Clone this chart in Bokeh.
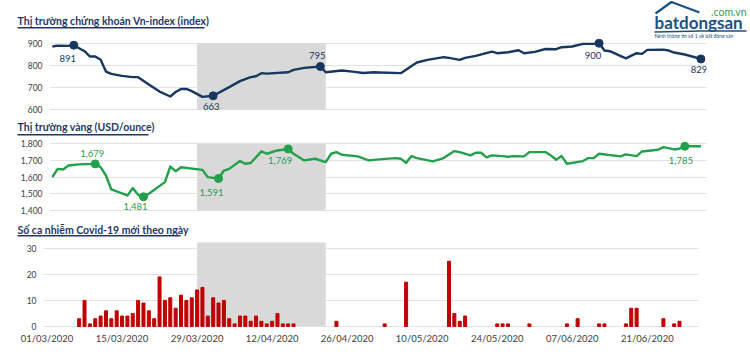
import pandas as pd
from bokeh.plotting import figure
from bokeh.layouts import column
from bokeh.models import (Range1d, FixedTicker, NumeralTickFormatter, Label,
                          ColumnDataSource, DatetimeTickFormatter)
from bokeh.embed import file_html
from bokeh.resources import INLINE

# ---------------- data ----------------
vn_dates = ["2020-03-02", "2020-03-03", "2020-03-05", "2020-03-06", "2020-03-08", "2020-03-09", "2020-03-10",
            "2020-03-11", "2020-03-12", "2020-03-13", "2020-03-15", "2020-03-17", "2020-03-18", "2020-03-20",
            "2020-03-22", "2020-03-24", "2020-03-25", "2020-03-26", "2020-03-27", "2020-03-28", "2020-03-30",
            "2020-04-01", "2020-04-04", "2020-04-06", "2020-04-08", "2020-04-09", "2020-04-10", "2020-04-11",
            "2020-04-15", "2020-04-16", "2020-04-18", "2020-04-21", "2020-04-22", "2020-04-25", "2020-04-27",
            "2020-04-29", "2020-05-01", "2020-05-02", "2020-05-06", "2020-05-09", "2020-05-11", "2020-05-14",
            "2020-05-15", "2020-05-17", "2020-05-18", "2020-05-20", "2020-05-23", "2020-05-24", "2020-05-26",
            "2020-05-28", "2020-05-29", "2020-05-31", "2020-06-02", "2020-06-04", "2020-06-05", "2020-06-07",
            "2020-06-09", "2020-06-11", "2020-06-12", "2020-06-13", "2020-06-14", "2020-06-17", "2020-06-19",
            "2020-06-20", "2020-06-21", "2020-06-24", "2020-06-25", "2020-06-26", "2020-06-28", "2020-07-01"]
vn_values = [885, 889, 888, 891, 864, 840, 840, 825, 772, 762, 753, 747, 747, 714, 682, 660, 680, 694, 694, 684, 658,
             663, 702, 729, 747, 751, 765, 763, 769, 780, 789, 795, 769, 777, 772, 766,
             769, 768, 765, 813, 825, 837, 834, 825, 834, 843, 862, 855, 859, 868, 855, 861,
             874, 873, 882, 885, 897, 897, 900, 867, 864, 832, 855, 852, 870, 871, 867, 858, 849,
             829]
vn_mark_dates = ["2020-03-06", "2020-04-01", "2020-04-21", "2020-06-12", "2020-07-01"]
vn_mark_values = [891, 663, 795, 900, 829]

gold_dates = ["2020-03-02", "2020-03-03", "2020-03-04", "2020-03-05", "2020-03-07", "2020-03-10", "2020-03-11",
              "2020-03-12", "2020-03-13", "2020-03-16", "2020-03-17", "2020-03-18", "2020-03-19", "2020-03-20",
              "2020-03-23", "2020-03-24", "2020-03-25", "2020-03-26", "2020-03-30", "2020-03-31",
              "2020-04-01", "2020-04-02", "2020-04-03", "2020-04-04", "2020-04-06", "2020-04-07", "2020-04-08",
              "2020-04-10", "2020-04-11", "2020-04-13", "2020-04-15", "2020-04-16", "2020-04-18", "2020-04-20",
              "2020-04-22", "2020-04-23", "2020-04-24", "2020-04-25", "2020-04-28", "2020-04-30",
              "2020-05-02", "2020-05-05", "2020-05-06", "2020-05-07", "2020-05-08", "2020-05-09", "2020-05-12",
              "2020-05-14", "2020-05-16", "2020-05-17", "2020-05-19", "2020-05-20", "2020-05-21", "2020-05-22",
              "2020-05-23", "2020-05-25", "2020-05-26", "2020-05-27", "2020-05-29", "2020-05-30",
              "2020-06-02", "2020-06-03", "2020-06-04", "2020-06-05", "2020-06-06", "2020-06-09", "2020-06-10",
              "2020-06-11", "2020-06-12", "2020-06-16", "2020-06-17", "2020-06-19", "2020-06-20", "2020-06-23",
              "2020-06-24", "2020-06-26", "2020-06-27", "2020-06-28", "2020-07-01"]
gold_values = [1600, 1649, 1645, 1669, 1676, 1679, 1659, 1609, 1525, 1489, 1533, 1493, 1481, 1499, 1569, 1663,
               1635, 1659, 1643, 1599,
               1595, 1591, 1639, 1649, 1696, 1680, 1684, 1754, 1740, 1760, 1769, 1740, 1700, 1710, 1690, 1740,
               1750, 1734, 1724, 1700,
               1706, 1714, 1710, 1686, 1726, 1714, 1694, 1714, 1756, 1750, 1730, 1746, 1746, 1718, 1730, 1726,
               1722, 1726, 1724, 1750,
               1750, 1730, 1704, 1726, 1680, 1696, 1714, 1714, 1740, 1724, 1736, 1726, 1754, 1764, 1780, 1766,
               1770, 1785, 1785]
gold_mark_dates = ["2020-03-10", "2020-03-19", "2020-04-02", "2020-04-15", "2020-06-28"]
gold_mark_values = [1679, 1481, 1591, 1769, 1785]

covid_dates = ["2020-03-07", "2020-03-08", "2020-03-09", "2020-03-10", "2020-03-11", "2020-03-12", "2020-03-13",
               "2020-03-14", "2020-03-15", "2020-03-16", "2020-03-17", "2020-03-18", "2020-03-19", "2020-03-20",
               "2020-03-21", "2020-03-22", "2020-03-23", "2020-03-24", "2020-03-25", "2020-03-26", "2020-03-27",
               "2020-03-28", "2020-03-29", "2020-03-30", "2020-03-31", "2020-04-01", "2020-04-02", "2020-04-03",
               "2020-04-04", "2020-04-05", "2020-04-06", "2020-04-07", "2020-04-08", "2020-04-09", "2020-04-10",
               "2020-04-11", "2020-04-12", "2020-04-13", "2020-04-14", "2020-04-15", "2020-04-16",
               "2020-04-24", "2020-05-03", "2020-05-07", "2020-05-15", "2020-05-16", "2020-05-17", "2020-05-18",
               "2020-05-24", "2020-05-25", "2020-05-26", "2020-05-30", "2020-06-06", "2020-06-08", "2020-06-12",
               "2020-06-13", "2020-06-17", "2020-06-18", "2020-06-19", "2020-06-24", "2020-06-26", "2020-06-27"]
covid_cases = [3, 10, 1, 3, 4, 6, 3, 6, 4, 4, 5, 10, 9, 6, 3, 19, 10, 11, 7, 12, 10, 11, 14, 15, 4, 11, 9, 10,
               3, 1, 4, 4, 2, 4, 2, 1, 2, 5, 1, 1, 1,
               2, 1, 17, 25, 5, 2, 4, 1, 1, 1, 1, 1, 3, 1, 1, 1, 7, 7, 3, 1, 2]

shade_start = "2020-03-29"
shade_end = "2020-04-22"

x_tick_dates = ["2020-03-01", "2020-03-15", "2020-03-29", "2020-04-12", "2020-04-26",
                "2020-05-10", "2020-05-24", "2020-06-07", "2020-06-21"]
vn_ticks = [600, 700, 800, 900]
gold_ticks = [1400, 1500, 1600, 1700, 1800]
covid_ticks = [0, 10, 20, 30]

title_vn = "Thị trường chứng khoán Vn-index (index)"
title_gold = "Thị trường vàng (USD/ounce)"
title_covid = "Số ca nhiễm Covid-19 mới theo ngày"
logo_domain = ".com.vn"
logo_name = "batdongsan"
logo_slogan = "Kênh thông tin số 1 về bất động sản"

# ---------------- styling ----------------
FONT = "Lato"
NAVY = "#17375E"
GREEN = "#22A04B"
GREEN_TXT = "#2E9A52"
RED = "#C00000"
SHADE = "#D9D9D9"
GRID = "#E2E2E2"
TICK_TXT = "#404040"
TITLE_C = "#1F3864"
LOGO_BLUE = "#1B5283"
LOGO_GREEN = "#3C9D47"

DAY_MS = 86400000.0
T0 = pd.Timestamp("2020-03-01").value / 1e6
PX_DAY = 5.36
DAY0_PX = 46.5
W = 750


def ms(d):
    return pd.Timestamp(d).value / 1e6


def px2ms(px):
    return T0 + (px - DAY0_PX) / PX_DAY * DAY_MS


def strip(height):
    """A plain drawing strip (no axes) used for the underlined panel titles."""
    t = figure(width=W, height=height, output_backend="svg", toolbar_location=None,
               x_range=Range1d(0, W), y_range=Range1d(height, 0),
               x_axis_location=None, y_axis_location=None, frame_align=False,
               min_border_left=0, min_border_right=0, min_border_top=0, min_border_bottom=0)
    t.title.visible = False
    t.outline_line_color = None
    t.xgrid.grid_line_color = None
    t.ygrid.grid_line_color = None
    t.border_fill_color = "white"
    return t


def add_title(t, text, y, u_end, u_y):
    t.add_layout(Label(x=17, y=y, text=text, text_font=FONT, text_font_style="bold",
                       text_font_size="10.5px", text_color=TITLE_C, text_baseline="middle",
                       text_align="left"))
    t.segment(x0=[17], y0=[u_y], x1=[u_end], y1=[u_y], line_color=TITLE_C, line_width=1.6)


def make_panel(height, top_b, bot_b, left, frame_w, y0, y1, ticks, xaxis):
    p = figure(width=W, height=height, output_backend="svg", toolbar_location=None,
               x_axis_type="datetime", x_axis_location="below" if xaxis else None,
               x_range=Range1d(px2ms(left), px2ms(left + frame_w)),
               y_range=Range1d(y0, y1), frame_align=False,
               min_border_left=left, min_border_right=W - left - frame_w,
               min_border_top=top_b, min_border_bottom=bot_b)
    p.title.visible = False
    p.outline_line_color = None
    p.background_fill_color = "white"
    p.border_fill_color = "white"
    p.xgrid.grid_line_color = None
    p.ygrid.ticker = FixedTicker(ticks=ticks)
    p.ygrid.grid_line_color = GRID
    p.ygrid.grid_line_width = 1
    ax = p.yaxis[0]
    ax.ticker = FixedTicker(ticks=ticks)
    ax.axis_line_color = None
    ax.major_tick_line_color = None
    ax.minor_tick_line_color = None
    ax.major_tick_out = 0
    ax.major_tick_in = 0
    ax.major_label_standoff = 7
    ax.major_label_text_font = FONT
    ax.major_label_text_font_size = "8.5px"
    ax.major_label_text_color = TICK_TXT
    return p


# ---- title strip 1 + logo (page y 0..38) ----
t1 = strip(38)
add_title(t1, title_vn, 20, 204, 27.2)
t1.add_layout(Label(x=746, y=11, text=logo_domain, text_align="right", text_baseline="middle",
                    text_font=FONT, text_font_size="10.5px", text_color=LOGO_GREEN))
t1.add_layout(Label(x=654, y=22, text=logo_name, text_align="left", text_baseline="middle",
                    text_font=FONT, text_font_style="bold", text_font_size="17px", text_color=LOGO_BLUE))
t1.add_layout(Label(x=654, y=35.5, text=logo_slogan, text_align="left", text_baseline="middle",
                    text_font=FONT, text_font_size="5px", text_color=LOGO_BLUE))
t1.line(x=[655, 671, 699], y=[13, 1.5, 12], line_color=LOGO_BLUE, line_width=2.2)
t1.line(x=[654, 700, 746], y=[31.5, 30.5, 30.5], line_color=LOGO_BLUE, line_width=1.6)

# ---- panel 1: VN-index (page y 38..115, frame 38..113) ----
s1 = 66.6 / 300.0
def v1(py):
    return 900 - (py - 42.7) / s1

p1 = make_panel(77, 0, 2, 49, 657, v1(113), v1(38), vn_ticks, False)
p1.quad(left=[ms(shade_start)], right=[ms(shade_end)], bottom=[vn_ticks[0]], top=[vn_ticks[-1]],
        fill_color=SHADE, line_color=None)
src1 = ColumnDataSource(dict(x=pd.to_datetime(vn_dates), y=vn_values))
p1.line("x", "y", source=src1, line_color=NAVY, line_width=2.4, line_join="round")
p1.scatter(pd.to_datetime(vn_mark_dates), vn_mark_values, size=8, color=NAVY)
offs1 = [(-6, -13), (-2, -11), (-3, 11), (-6, -12), (-2, -11)]
for d, v, (dx, dy) in zip(vn_mark_dates, vn_mark_values, offs1):
    p1.add_layout(Label(x=ms(d), y=v, text=f"{v:,}", x_offset=dx, y_offset=dy, text_align="center",
                        text_baseline="middle", text_font=FONT, text_font_size="9.5px", text_color=NAVY))

# ---- title strip 2 (page y 115..138) ----
t2 = strip(23)
add_title(t2, title_gold, 126.7 - 115, 148, 134.3 - 115)

# ---- panel 2: gold (page y 138..218, frame 138..216) ----
s2 = 66.4 / 400.0
def v2(py):
    return 1800 - (py - 143.3) / s2

p2 = make_panel(80, 0, 2, 49, 657, v2(216), v2(138), gold_ticks, False)
p2.yaxis[0].formatter = NumeralTickFormatter(format="0,0")
p2.quad(left=[ms(shade_start)], right=[ms(shade_end)], bottom=[gold_ticks[0]], top=[gold_ticks[-1]],
        fill_color=SHADE, line_color=None)
src2 = ColumnDataSource(dict(x=pd.to_datetime(gold_dates), y=gold_values))
p2.line("x", "y", source=src2, line_color=GREEN, line_width=2.4, line_join="round")
p2.scatter(pd.to_datetime(gold_mark_dates), gold_mark_values, size=8, color=GREEN)
offs2 = [(-3, 10), (-8, -10), (-7, -14), (-8, -12), (-4, -14)]
for d, v, (dx, dy) in zip(gold_mark_dates, gold_mark_values, offs2):
    p2.add_layout(Label(x=ms(d), y=v, text=f"{v:,}", x_offset=dx, y_offset=dy, text_align="center",
                        text_baseline="middle", text_font=FONT, text_font_size="9.5px", text_color=GREEN_TXT))

# ---- title strip 3 (page y 218..240) ----
t3 = strip(22)
add_title(t3, title_covid, 229.3 - 218, 180, 235.3 - 218)

# ---- panel 3: covid (page y 240..359, frame 240..327) ----
s3 = 78.3 / 30.0
def v3(py):
    return (326 - py) / s3

p3 = make_panel(119, 0, 32, 43, 655, v3(327), v3(240), covid_ticks, True)
p3.quad(left=[ms(shade_start)], right=[ms(shade_end)], bottom=[0], top=[v3(242)],
        fill_color=SHADE, line_color=None)
p3.vbar(x=pd.to_datetime(covid_dates), top=covid_cases, width=0.56 * DAY_MS, color=RED)
xa = p3.xaxis[0]
xa.ticker = FixedTicker(ticks=[ms(d) for d in x_tick_dates])
xa.formatter = DatetimeTickFormatter(days="%d/%m/%Y", months="%d/%m/%Y", years="%d/%m/%Y",
                                     hours="%d/%m/%Y", hourmin="%d/%m/%Y")
xa.axis_line_color = None
xa.major_tick_line_color = None
xa.minor_tick_line_color = None
xa.major_tick_out = 0
xa.major_tick_in = 0
xa.major_label_standoff = 5
xa.major_label_text_font = FONT
xa.major_label_text_font_size = "9.5px"
xa.major_label_text_color = TICK_TXT

layout = column(t1, p1, t2, p2, t3, p3, spacing=0)
open("out.html", "w").write(file_html(layout, INLINE))
